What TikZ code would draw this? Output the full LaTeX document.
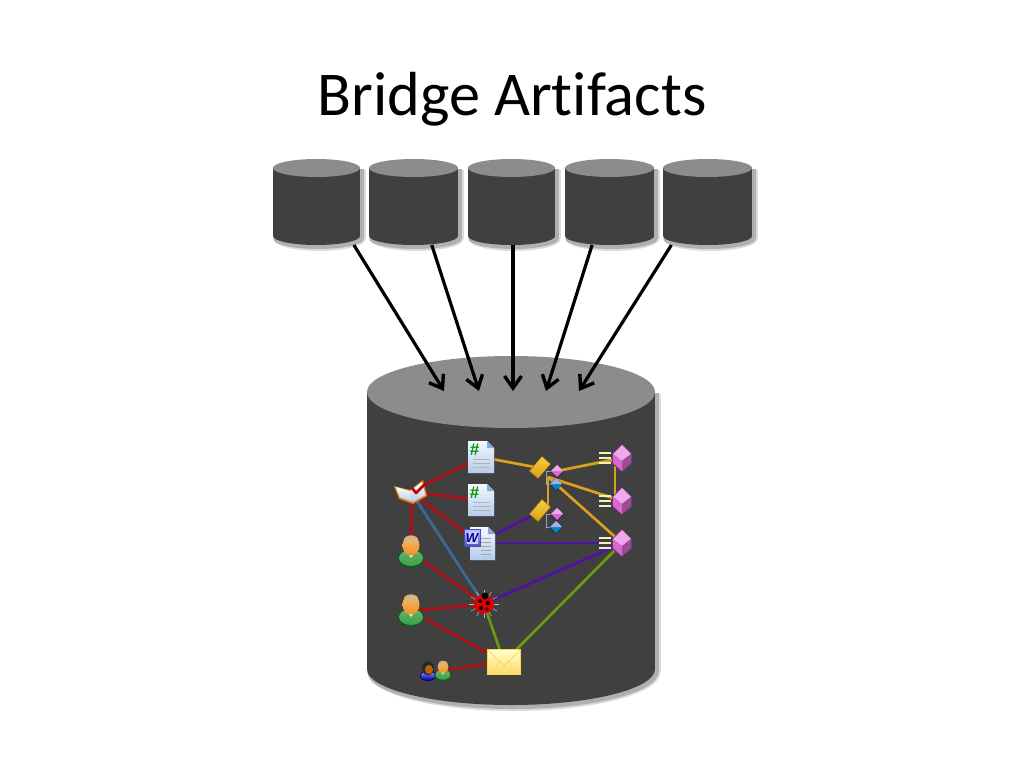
\documentclass[tikz,border=0pt]{standalone}
\usepackage{fontspec}
\setmainfont[RawFeature={-liga}]{Carlito}
\newfontfamily\iconfont{Liberation Sans}
\usetikzlibrary{arrows.meta,shapes.geometric}
\definecolor{bodygray}{HTML}{404040}
\definecolor{topgray}{HTML}{8C8C8C}
\definecolor{shadeA}{HTML}{B0B0B0}
\definecolor{shadeB}{HTML}{DCDCDC}
\definecolor{linkred}{HTML}{A81218}
\definecolor{linkorange}{HTML}{DDA01E}
\definecolor{linkpurple}{HTML}{5212A0}
\definecolor{linkgreen}{HTML}{6A9A12}
\definecolor{linkblue}{HTML}{3C6A96}
\definecolor{pagetop}{HTML}{F4F8FF}
\definecolor{pagebot}{HTML}{B4CCEC}
\definecolor{pagefold}{HTML}{84AAD8}
\definecolor{gemtop}{HTML}{F0A8EC}
\definecolor{gemleft}{HTML}{DC66D0}
\definecolor{gemright}{HTML}{9C4C94}
\definecolor{gemback}{HTML}{6E3A70}
\definecolor{keytop}{HTML}{F6CE40}
\definecolor{keybot}{HTML}{D8A014}
\definecolor{skintop}{HTML}{F4BC74}
\definecolor{skinbot}{HTML}{F09020}
\definecolor{hairtone}{HTML}{DCB47A}
\definecolor{shirt}{HTML}{3EA046}
\definecolor{shirtdark}{HTML}{0E5C1A}
\newcommand{\dbshape}[6]{% name, cx, ytop-centre, rx, ry, ybottom-centre
  \fill[shadeB] (#2-#4+1,#3+2) rectangle (#2+#4+6,#6+3);
  \fill[shadeB] (#2+3,#6+3) ellipse [x radius=#4+2.5, y radius=#5+3];
  \fill[shadeA] (#2-#4+1,#3+1) rectangle (#2+#4+4,#6+3);
  \fill[shadeA] (#2+2,#6+3) ellipse [x radius=#4+1.5, y radius=#5+1];
  \fill[bodygray] (#2-#4,#3) rectangle (#2+#4,#6);
  \fill[bodygray] (#2,#6) ellipse [x radius=#4, y radius=#5];
  \fill[topgray] (#2,#3) ellipse [x radius=#4, y radius=#5];
}
\tikzset{
  every picture/.style={x=1pt,y=-1pt},
  spot/.style={inner sep=0pt,outer sep=0pt},
  feed/.style={line width=3.2pt,black,-{Straight Barb[length=12pt,width=17pt,line width=3.4pt]}},
  redlink/.style={line width=3pt,linkred},
  orangelink/.style={line width=2.7pt,linkorange},
  purplelink/.style={line width=2.8pt,linkpurple},
  greenlink/.style={line width=2.7pt,linkgreen},
  bluelink/.style={line width=2.7pt,linkblue},
  docicon/.pic={
    \fill[black!70,opacity=.6] (-12,-15) -- (7,-15) -- (14,-8) -- (14,17) -- (-12,17) -- cycle;
    \shade[top color=pagetop,bottom color=pagebot] (-13,-16) -- (6,-16) -- (13,-9) -- (13,16) -- (-13,16) -- cycle;
    \fill[pagefold] (6,-16) -- (13,-9) -- (6,-9) -- cycle;
    \foreach \yy in {2,6,10} \draw[gray!60,line width=.5pt] (-8,\yy) -- (9,\yy);
    \node[spot,text=green!60!black,font=\iconfont\bfseries\fontsize{17}{17}\selectfont] (hash) at (-6.5,-7) {\#};
  },
  wordicon/.pic={
    \fill[black!70,opacity=.6] (-8,-15) -- (10,-15) -- (17,-8) -- (17,18) -- (-8,18) -- cycle;
    \shade[top color=pagetop,bottom color=pagebot] (-9,-16) -- (9,-16) -- (16,-9) -- (16,17) -- (-9,17) -- cycle;
    \fill[pagefold] (9,-16) -- (16,-9) -- (9,-9) -- cycle;
    \foreach \yy in {-5,-1,3,7,11} \draw[gray!70,line width=.5pt] (2,\yy) -- (12,\yy);
    \shade[top color=blue!25!white,bottom color=blue!35!gray,draw=blue!40!gray,line width=.4pt] (-15,-14) rectangle (1,3);
    \fill[white!80!blue] (-12.5,-11) rectangle (-1.5,.5);
    \node[spot,text=blue!60!black,font=\iconfont\bfseries\itshape\fontsize{13}{13}\selectfont] (wee) at (-7,-5) {W};
  },
  personicon/.pic={
    \fill[shirtdark] (0,6.5) ellipse [x radius=13.5, y radius=9.5];
    \shade[top color=shirt!80!white,bottom color=shirt] (0,6) ellipse [x radius=12, y radius=8];
    \fill[white!80!green] (-5,-1) -- (0,6) -- (5,-1) -- cycle;
    \shade[top color=skintop,bottom color=skinbot] (0,-6.5) ellipse [x radius=8.5, y radius=10];
    \fill[hairtone] (0,-12.5) ellipse [x radius=7, y radius=4];
  },
  womanicon/.pic={
    \fill[blue!40!black] (0,6) ellipse [x radius=13, y radius=8.5];
    \shade[top color=blue!45!white,bottom color=blue!70!black] (0,6) ellipse [x radius=11.5, y radius=7];
    \fill[black!85] (0,-6) ellipse [x radius=9.5, y radius=11];
    \fill[orange!75!black] (1.5,-4) ellipse [x radius=6.5, y radius=7.5];
  },
  bookicon/.pic={
    \fill[orange!60!brown] (-17,-6) -- (-1,-2) -- (12,-12) -- (16,4) -- (2,12) -- (-12,7) -- cycle;
    \shade[top color=white,bottom color=pagebot] (-15.5,-5) -- (-1,-1) -- (2,10) -- (-11,5.5) -- cycle;
    \shade[top color=white,bottom color=pagebot] (-1,-1) -- (11,-10) -- (14.5,3) -- (2,10) -- cycle;
    \draw[red!75!black,line width=2.6pt,line join=round] (1,-4) -- (5,1) -- (14,-8);
  },
  bugicon/.pic={
    \foreach \aa in {0,30,...,330}
      \draw[gray!50!white,line width=.5pt] (0,0) -- ({15*cos(\aa)},{14*sin(\aa)});
    \fill[red!90!black] (0,0) ellipse [x radius=10, y radius=9.5];
    \fill[black] (1,-8) circle [radius=3.4];
    \fill[black] (-4,-3) circle [radius=2];
    \fill[black] (4,-1) circle [radius=2.2];
    \fill[black] (-3,4) circle [radius=2];
    \fill[black] (3,5) circle [radius=1.8];
  },
  mailicon/.pic={
    \shade[top color=yellow!20!white,bottom color=yellow!50!orange!60!white,draw=yellow!60!orange!70!white,line width=.5pt] (-16.5,-12.5) rectangle (16.5,12.5);
    \draw[yellow!50!orange!70!white,line width=.7pt] (-16.5,-12.5) -- (0,4) -- (16.5,-12.5);
    \draw[yellow!50!orange!50!white,line width=.6pt] (-16.5,12.5) -- (-4,0) (16.5,12.5) -- (4,0);
  },
  gemicon/.pic={
    \foreach \yy in {-5,0,5} \draw[white!75!yellow!90!gray,line width=1.4pt] (-23,\yy) -- (-11,\yy);
    \fill[gemback] (-10,-4) -- (0,-14) -- (10,-4) -- (10,6) -- (0,14) -- (-10,6) -- cycle;
    \fill[gemtop] (-9,-4) -- (0,-13) -- (9,-4) -- (0,3) -- cycle;
    \fill[gemleft] (-9,-4) -- (0,3) -- (0,13) -- (-9,5) -- cycle;
    \fill[gemright] (9,-4) -- (0,3) -- (0,13) -- (9,5) -- cycle;
  },
  compicon/.pic={
    \draw[gray!70!blue!60!white,line width=1pt] (12,3) -- (6,3) -- (6,16) -- (12,16);
    \fill[keybot!70!black] (-11,3) -- (2,-12) -- (11,-4) -- (-2,11) -- cycle;
    \shade[top color=keytop,bottom color=keybot] (-10,3) -- (2,-11) -- (10,-4) -- (-2,10) -- cycle;
    \fill[black,opacity=.35] (17,-3) -- (24,3.5) -- (17,10) -- (10,3.5) -- cycle;
    \fill[gemleft] (17,-3) -- (23,3) -- (17,9) -- (11,3) -- cycle;
    \fill[gemtop] (17,-3) -- (23,3) -- (11,3) -- cycle;
    \fill[black,opacity=.35] (16,9) -- (23,16.5) -- (16,23) -- (9,16.5) -- cycle;
    \fill[blue!35!cyan!80!black] (16,10) -- (22,16) -- (16,22) -- (10,16) -- cycle;
    \fill[cyan!30!blue!35!white] (16,10) -- (22,16) -- (10,16) -- cycle;
  },
}
\begin{document}
\begin{tikzpicture}
\useasboundingbox (0,0) rectangle (1024,768);
\fill[white] (0,0) rectangle (1024,768);
\node[spot,font=\fontsize{62.3}{62.3}\selectfont] (title) at (512,99) {Bridge Artifacts};

% cylinders
\dbshape{db1}{316.5}{168}{43.5}{9}{236}
\dbshape{db2}{413.5}{168}{44.5}{9}{236}
\dbshape{db3}{511.5}{168}{43.5}{9}{236}
\dbshape{db4}{609.5}{168}{44.5}{9}{236}
\dbshape{db5}{707.5}{168}{44.5}{9}{236}
\dbshape{hub}{511}{392}{144}{36}{669}
\foreach \nm/\cx in {db1/316.5,db2/413.5,db3/511.5,db4/609.5,db5/707.5}
  \node[spot,minimum width=87pt,minimum height=86pt] (\nm) at (\cx,202) {};
\node[spot,minimum width=288pt,minimum height=349pt] (hub) at (511,531) {};

\coordinate (t1) at (444,391);
\coordinate (t2) at (479,391);
\coordinate (t3) at (513,391);
\coordinate (t4) at (546,391);
\coordinate (t5) at (579,391);
\draw[feed] (db1.-49) -- (t1);
\draw[feed] (db2.-67) -- (t2);
\draw[feed] (513,245) -- (t3);
\draw[feed] (db4.-112) -- (t4);
\draw[feed] (db5.-130) -- (t5);

% anchors of the inner graph
\node[spot] (book) at (411,492) {};
\node[spot] (docA) at (481,457) {};
\node[spot] (docB) at (481,500) {};
\node[spot] (word) at (479,543) {};
\node[spot] (userA) at (411,552) {};
\node[spot] (userB) at (411,611) {};
\node[spot] (team) at (436,671) {};
\node[spot] (bug) at (484,604) {};
\node[spot] (mail) at (504,662) {};
\node[spot] (compA) at (540,468) {};
\node[spot] (compB) at (540,511) {};
\node[spot] (pinkA) at (557,471) {};
\coordinate (junction) at (548,477);
\coordinate (junctionB) at (548,508);
\node[spot] (gemA) at (622,458) {};
\node[spot] (gemB) at (622,501) {};
\node[spot] (gemC) at (622,543) {};
\coordinate (gemAside) at (615,460);
\coordinate (gemBside) at (615,500);

\draw[redlink] (book) -- (docA);
\draw[redlink] (book) -- (docB);
\draw[redlink] (book) -- (word);
\draw[redlink] (book) -- (userA);
\draw[redlink] (userA) -- (bug);
\draw[redlink] (userB) -- (bug);
\draw[redlink] (userB) -- (mail);
\draw[redlink] (team) -- (mail);
\draw[bluelink] (book) -- (bug);
\draw[greenlink] (bug) -- (mail);
\draw[greenlink] (mail) -- (gemC);
\draw[purplelink] (word) -- (compB);
\draw[purplelink] (word) -- (gemC);
\draw[purplelink] (bug) -- (gemC);
\draw[orangelink] (docA) -- (compA);
\draw[orangelink] (pinkA) -- (gemA);
\draw[orangelink] (junction) -- (gemB);
\draw[orangelink] (junction) -- (gemC);
\draw[orangelink] (junction) -- (junctionB);
\draw[orangelink] (gemAside) -- (gemBside);

% icons
\pic at (docA) {docicon};
\pic at (docB) {docicon};
\pic at (word) {wordicon};
\pic at (book) {bookicon};
\pic at (userA) {personicon};
\pic at (userB) {personicon};
\pic[scale=.62] at (428,672) {womanicon};
\pic[scale=.62] at (443,671) {personicon};
\pic at (bug) {bugicon};
\pic at (mail) {mailicon};
\pic at (compA) {compicon};
\pic at (compB) {compicon};
\pic at (gemA) {gemicon};
\pic at (gemB) {gemicon};
\pic at (gemC) {gemicon};
\end{tikzpicture}
\end{document}
